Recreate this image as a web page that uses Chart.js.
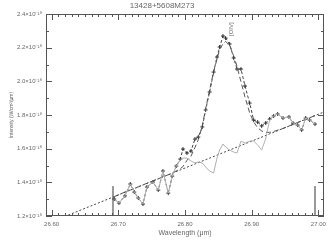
<!DOCTYPE html>
<html>
<head>
<meta charset="utf-8">
<script src="https://cdn.jsdelivr.net/npm/chart.js@4"></script>
<style>
  html, body { margin: 0; padding: 0; background: #fff; }
</style>
</head>
<body>
<canvas id="chartLine" width="333" height="245"></canvas>
<script>
'use strict';

// wavelength in micron, intensities in units of 1e-18 W/cm2/um
const wavelength = [
    26.694, 26.701, 26.710, 26.718, 26.724, 26.730, 26.737, 26.743, 26.752, 26.760,
    26.767, 26.775, 26.781, 26.787, 26.793, 26.797, 26.803, 26.809, 26.815, 26.820,
    26.826, 26.831, 26.837, 26.843, 26.848, 26.852, 26.857, 26.861, 26.867, 26.873,
    26.878, 26.884, 26.890, 26.897, 26.903, 26.909, 26.915, 26.921, 26.927, 26.933,
    26.939, 26.947, 26.956, 26.962, 26.969, 26.975, 26.981, 26.987, 26.995
];
const flux = [
    1.301, 1.277, 1.319, 1.390, 1.342, 1.307, 1.271, 1.372, 1.402, 1.354,
    1.467, 1.336, 1.437, 1.497, 1.538, 1.598, 1.574, 1.586, 1.657, 1.669,
    1.729, 1.830, 1.937, 2.055, 2.144, 2.204, 2.269, 2.257, 2.222, 2.139,
    2.073, 2.073, 1.972, 1.871, 1.770, 1.758, 1.735, 1.752, 1.776, 1.794,
    1.806, 1.782, 1.788, 1.752, 1.740, 1.711, 1.782, 1.770, 1.746
];
const fitFlux = [
    1.315, 1.327, 1.342, 1.354, 1.363, 1.373, 1.385, 1.394, 1.409, 1.421,
    1.433, 1.445, 1.454, 1.468, 1.481, 1.494, 1.531, 1.555, 1.607, 1.653,
    1.737, 1.838, 1.949, 2.059, 2.131, 2.189, 2.224, 2.237, 2.213, 2.152,
    2.090, 1.997, 1.907, 1.813, 1.759, 1.724, 1.705, 1.697, 1.697, 1.702,
    1.710, 1.720, 1.735, 1.744, 1.756, 1.765, 1.775, 1.784, 1.796
];
const residualFlux = [
    1.301, 1.277, 1.319, 1.390, 1.342, 1.307, 1.271, 1.372, 1.402, 1.354,
    1.467, 1.336, 1.437, 1.497, 1.533, 1.544, 1.544, 1.527, 1.515, 1.521,
    1.515, 1.491, 1.467, 1.455, 1.544, 1.592, 1.628, 1.610, 1.592, 1.580,
    1.574, 1.645, 1.633, 1.645, 1.645, 1.622, 1.592, 1.657, 1.770, 1.794,
    1.806, 1.782, 1.788, 1.752, 1.740, 1.711, 1.782, 1.770, 1.746
];
const continuumWl = [26.5916, 27.0085];
const continuumFlux = [1.152, 1.818];
const fitRangeWl = [26.692, 26.995];
const fitRangeFlux = [1.2, 1.378];

const xTickLabels = ['26.60', '26.70', '26.80', '26.90', '27.00'];
const yTickLabels = ['1.2', '1.4', '1.6', '1.8', '2.0', '2.2', '2.4'];

const lineLabel = '[OIV]';
const lineLabelWl = 26.869;
const lineLabelFlux = 2.31;

const FONT = 'Liberation Sans';
const INK = '#666';

function toXY(xs, ys) {
    return xs.map((x, i) => ({ x: x, y: ys[i] }));
}

function findLabel(labels, v) {
    for (let i = 0; i < labels.length; i++) {
        if (Math.abs(Number(labels[i]) - v) < 1e-6) {
            return labels[i];
        }
    }
    return null;
}

// IDL style box: border on four sides, ticks pointing inward
const framePlugin = {
    id: 'frame',
    afterDraw(chart) {
        const { ctx, chartArea: a, scales: { x, y } } = chart;
        ctx.save();
        ctx.strokeStyle = '#555';
        ctx.lineWidth = 1;
        ctx.strokeRect(a.left + 0.5, a.top + 0.5, a.right - a.left - 1, a.bottom - a.top - 1);

        ctx.beginPath();
        x.ticks.forEach(t => {
            const px = Math.round(x.getPixelForValue(t.value)) + 0.5;
            const len = findLabel(xTickLabels, t.value) ? 6 : 3;
            ctx.moveTo(px, a.bottom); ctx.lineTo(px, a.bottom - len);
            ctx.moveTo(px, a.top); ctx.lineTo(px, a.top + len);
        });
        y.ticks.forEach(t => {
            const py = Math.round(y.getPixelForValue(t.value)) + 0.5;
            const len = findLabel(yTickLabels, t.value) ? 6 : 3;
            ctx.moveTo(a.left, py); ctx.lineTo(a.left + len, py);
            ctx.moveTo(a.right, py); ctx.lineTo(a.right - len, py);
        });
        ctx.stroke();

        // line identification
        ctx.translate(x.getPixelForValue(lineLabelWl), y.getPixelForValue(lineLabelFlux));
        ctx.rotate(-Math.PI / 2);
        ctx.fillStyle = INK;
        ctx.font = `6px "${FONT}"`;
        ctx.textAlign = 'center';
        ctx.textBaseline = 'middle';
        ctx.fillText(lineLabel, 0, 0);
        ctx.restore();
    }
};

const datasets = [
    {
        label: 'residual',
        data: toXY(wavelength, residualFlux),
        borderColor: '#b0b0b0',
        borderWidth: 1,
        pointRadius: 0
    },
    {
        label: 'continuum',
        data: toXY(continuumWl, continuumFlux),
        borderColor: '#444',
        borderWidth: 1,
        borderDash: [2, 2],
        pointRadius: 0
    },
    {
        label: 'fit',
        data: toXY(wavelength, fitFlux),
        borderColor: '#555',
        borderWidth: 1,
        borderDash: [5, 3],
        pointRadius: 0
    },
    {
        label: 'data',
        data: toXY(wavelength, flux),
        borderColor: '#444',
        borderWidth: 1,
        borderDash: [3, 2],
        pointStyle: 'cross',
        pointRadius: 2,
        pointBorderColor: '#333',
        pointBorderWidth: 1
    }
];
for (let i = 0; i < fitRangeWl.length; i++) {
    datasets.push({
        label: 'range' + i,
        data: toXY([fitRangeWl[i], fitRangeWl[i]], fitRangeFlux),
        borderColor: '#999',
        borderWidth: 2,
        pointRadius: 0
    });
}

const chartLine = new Chart(document.getElementById('chartLine'), {
    type: 'line',
    data: { datasets: datasets },
    options: {
        responsive: false,
        animation: false,
        layout: { padding: { left: 0, right: 9, top: 0, bottom: 0 } },
        plugins: {
            legend: { display: false },
            tooltip: { enabled: false },
            title: {
                display: true,
                text: '13428+5608M273',
                color: INK,
                font: { family: FONT, size: 8, weight: 'normal' },
                padding: { top: 1, bottom: 3.4 }
            }
        },
        scales: {
            x: {
                type: 'linear',
                min: 26.5916,
                max: 27.0085,
                grid: { display: false, drawTicks: false },
                border: { display: false },
                ticks: {
                    stepSize: 0.01,
                    includeBounds: false,
                    autoSkip: false,
                    maxRotation: 0,
                    padding: 5,
                    color: INK,
                    font: { family: FONT, size: 6 },
                    callback: v => findLabel(xTickLabels, v) || ''
                },
                title: {
                    display: true,
                    text: 'Wavelength (μm)',
                    color: INK,
                    font: { family: FONT, size: 7 },
                    padding: { top: 0, bottom: 8 }
                },
                afterFit: scale => { scale.height = 29; }
            },
            y: {
                min: 1.2,
                max: 2.4,
                grid: { display: false, drawTicks: false },
                border: { display: false },
                ticks: {
                    stepSize: 0.1,
                    includeBounds: false,
                    autoSkip: false,
                    padding: 4,
                    color: INK,
                    font: { family: FONT, size: 6 },
                    callback: v => {
                        const lbl = findLabel(yTickLabels, v);
                        return lbl ? lbl + '×10⁻¹⁸' : '';
                    }
                },
                title: {
                    display: true,
                    text: 'Intensity (W/cm²/μm)',
                    color: INK,
                    font: { family: FONT, size: 5 },
                    padding: { top: 9, bottom: 0 }
                },
                afterFit: scale => { scale.width = 46; }
            }
        }
    },
    plugins: [framePlugin]
});
</script>
</body>
</html>
